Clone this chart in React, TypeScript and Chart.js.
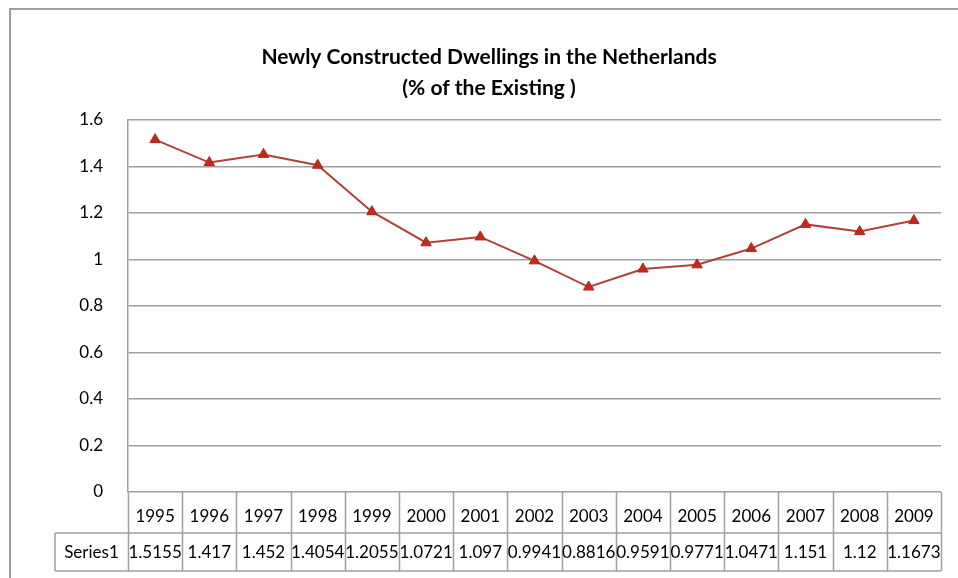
import React, { useEffect, useRef } from "react";
import { Chart, registerables } from "chart.js";

Chart.register(...registerables);

const years = ["1995", "1996", "1997", "1998", "1999", "2000", "2001", "2002", "2003", "2004", "2005", "2006", "2007", "2008", "2009"];
const series1 = [1.5155, 1.417, 1.452, 1.4054, 1.2055, 1.0721, 1.097, 0.9941, 0.8816, 0.9591, 0.9771, 1.0471, 1.151, 1.12, 1.1673];
const seriesName = "Series1";
const titleLines = ["Newly Constructed Dwellings in the Netherlands", "(% of the Existing )"];

const FONT = "Lato, 'Open Sans', sans-serif";
const GRID = "#a0a0a0";

const framePlugin = {
  id: "frameAndTable",
  beforeDraw(chart: any) {
    const ctx = chart.ctx;
    ctx.save();
    ctx.fillStyle = "#ffffff";
    ctx.fillRect(0, 0, chart.width, chart.height);
    ctx.strokeStyle = GRID;
    ctx.lineWidth = 2;
    ctx.beginPath();
    ctx.moveTo(2, chart.height);
    ctx.lineTo(2, 1);
    ctx.lineTo(chart.width, 1);
    ctx.stroke();
    ctx.restore();
  },
  afterDraw(chart: any) {
    const ctx = chart.ctx;
    const area = chart.chartArea;
    const xs = chart.scales.x;
    // title
    ctx.save();
    ctx.fillStyle = "#000";
    ctx.font = `bold 21px ${FONT}`;
    ctx.textAlign = "center";
    ctx.textBaseline = "middle";
    const cx = 481;
    ctx.fillText(titleLines[0], cx, 49);
    ctx.fillText(titleLines[1], cx, 80);

    // data table
    const n = years.length;
    const w = xs.getPixelForValue(1) - xs.getPixelForValue(0);
    const row1Top = area.bottom;
    const row1Bot = area.bottom + 41;
    const row2Bot = row1Bot + 38;
    const labelLeft = 47;
    ctx.strokeStyle = GRID;
    ctx.lineWidth = 1.5;
    ctx.beginPath();
    for (let i = 0; i <= n; i++) {
      const x = i < n ? xs.getPixelForValue(i) - w / 2 : xs.getPixelForValue(n - 1) + w / 2;
      ctx.moveTo(Math.round(x) + 0.5, row1Top);
      ctx.lineTo(Math.round(x) + 0.5, row2Bot);
    }
    ctx.moveTo(labelLeft, row1Bot);
    ctx.lineTo(area.right, row1Bot);
    ctx.moveTo(labelLeft, row2Bot);
    ctx.lineTo(area.right, row2Bot);
    ctx.moveTo(labelLeft, row1Bot);
    ctx.lineTo(labelLeft, row2Bot);
    ctx.stroke();

    ctx.fillStyle = "#000";
    ctx.font = `17px ${FONT}`;
    for (let i = 0; i < n; i++) {
      const x = xs.getPixelForValue(i);
      ctx.fillText(years[i], x, row1Top + 25);
      ctx.fillText(String(series1[i]), x, row1Bot + 20);
    }
    ctx.fillText(seriesName, (labelLeft + area.left) / 2, row1Bot + 20);
    ctx.restore();
  },
};

export default function App() {
  const ref = useRef<HTMLCanvasElement>(null);
  useEffect(() => {
    if (!ref.current) return;
    const chart = new Chart(ref.current, {
      type: "line",
      data: {
        labels: years,
        datasets: [
          {
            label: seriesName,
            data: series1,
            borderColor: "#b0403a",
            borderWidth: 2,
            backgroundColor: "#c8281a",
            pointStyle: "triangle",
            pointRadius: 6,
            pointBorderColor: "#a52a1e",
            pointBorderWidth: 1,
            tension: 0,
          },
        ],
      },
      options: {
        animation: false,
        responsive: false,
        maintainAspectRatio: false,
        layout: { padding: { left: 0, right: 17, top: 112, bottom: 86 } },
        plugins: { legend: { display: false }, title: { display: false }, tooltip: { enabled: false } },
        scales: {
          x: {
            display: false,
            offset: true,
          },
          y: {
            min: 0,
            max: 1.6,
            afterFit(scale: any) {
              scale.width = 120;
            },
            ticks: {
              stepSize: 0.2,
              padding: 25,
              color: "#000",
              font: { family: FONT, size: 17 },
              callback: (v: any) => String(Number(Number(v).toFixed(1))),
            },
            grid: { color: GRID, lineWidth: 1.5, drawTicks: false },
            border: { display: true, color: GRID, width: 1.5 },
          },
        },
      },
      plugins: [framePlugin],
    });
    return () => chart.destroy();
  }, []);
  return (
    <div style={{ position: "absolute", left: 8, top: 8, width: 950, height: 570, overflow: "hidden" }}>
      <canvas ref={ref} width={950} height={570} style={{ width: 950, height: 570, display: "block" }} />
    </div>
  );
}
